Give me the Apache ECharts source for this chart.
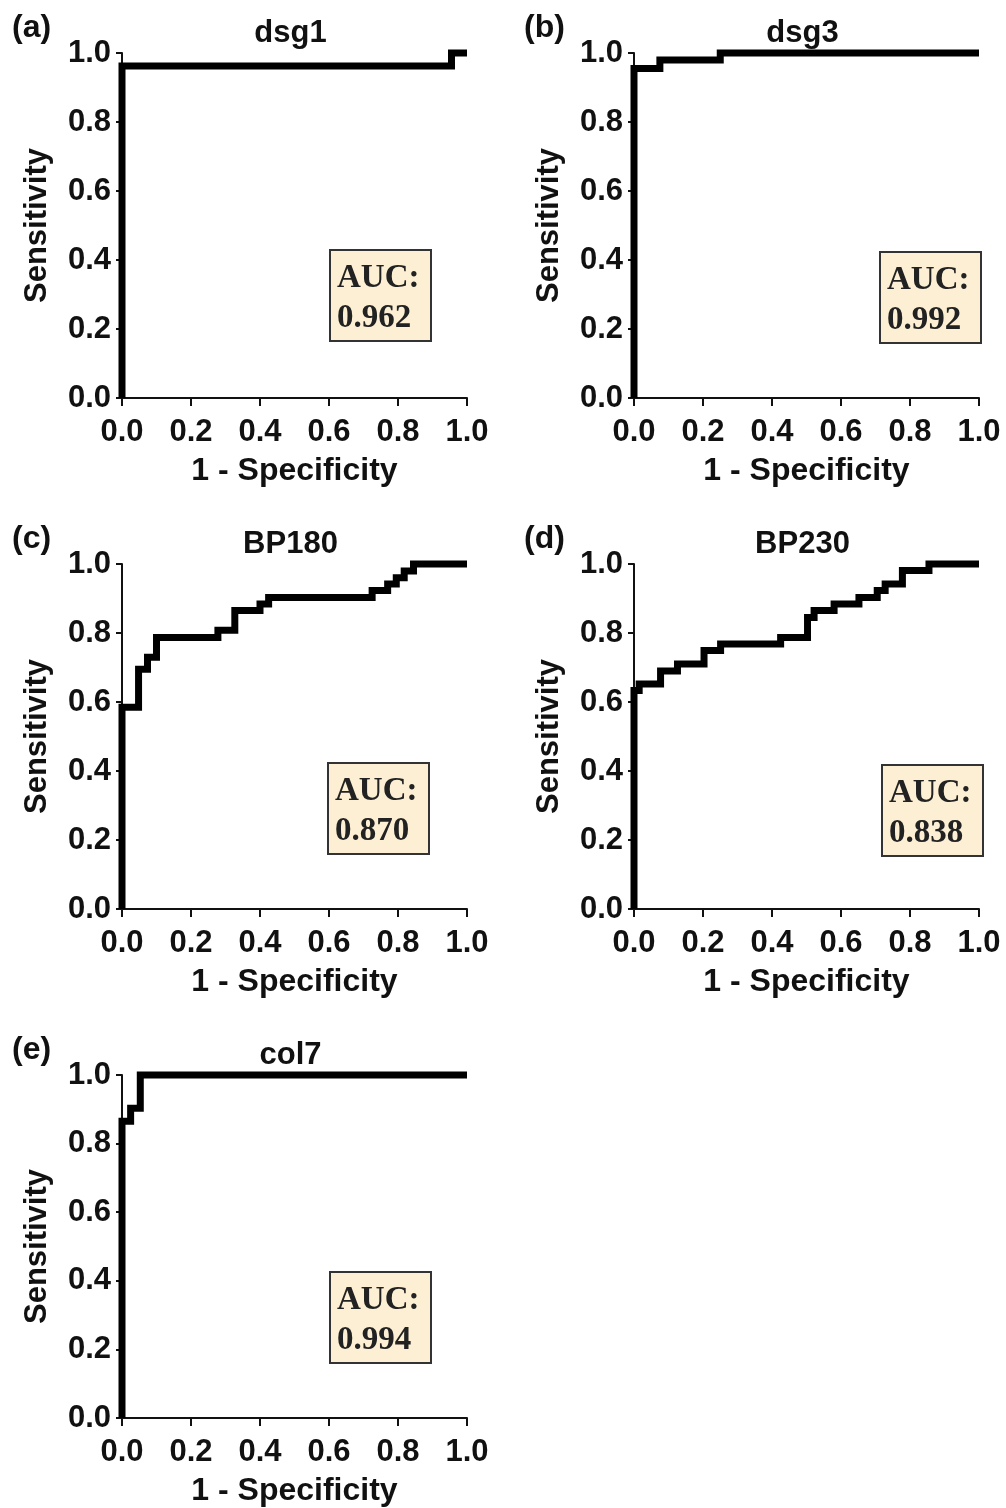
<!DOCTYPE html>
<html>
<head>
<meta charset="utf-8">
<script src="https://cdn.jsdelivr.net/npm/echarts@6/dist/echarts.min.js"></script>
<style>
  html, body { margin: 0; padding: 0; background: #fff; }
  #main { width: 1006px; height: 1508px; }
</style>
</head>
<body>
<div id="main"></div>
<script>
// ROC curve vertices (1 - specificity, sensitivity)
const dsg1X = [0, 0, 0.955, 0.955, 1]
const dsg1Y = [0, 0.962, 0.962, 1, 1]

const dsg3X = [0, 0, 0.075, 0.075, 0.25, 0.25, 1]
const dsg3Y = [0, 0.955, 0.955, 0.98, 0.98, 1, 1]

const bp180X = [0, 0, 0.048, 0.048, 0.074, 0.074, 0.1, 0.1, 0.278, 0.278, 0.327, 0.327,
  0.4, 0.4, 0.425, 0.425, 0.725, 0.725, 0.77, 0.77, 0.795, 0.795, 0.818, 0.818, 0.845, 0.845, 1]
const bp180Y = [0, 0.585, 0.585, 0.695, 0.695, 0.73, 0.73, 0.787, 0.787, 0.808, 0.808, 0.865,
  0.865, 0.884, 0.884, 0.903, 0.903, 0.923, 0.923, 0.942, 0.942, 0.96, 0.96, 0.98, 0.98, 1, 1]

const bp230X = [0, 0, 0.015, 0.015, 0.077, 0.077, 0.126, 0.126, 0.203, 0.203, 0.251, 0.251,
  0.425, 0.425, 0.503, 0.503, 0.522, 0.522, 0.58, 0.58, 0.652, 0.652, 0.705, 0.705,
  0.728, 0.728, 0.778, 0.778, 0.855, 0.855, 1]
const bp230Y = [0, 0.633, 0.633, 0.652, 0.652, 0.69, 0.69, 0.71, 0.71, 0.749, 0.749, 0.768,
  0.768, 0.787, 0.787, 0.845, 0.845, 0.865, 0.865, 0.884, 0.884, 0.903, 0.903, 0.923,
  0.923, 0.942, 0.942, 0.981, 0.981, 1, 1]

const col7X = [0, 0, 0.025, 0.025, 0.053, 0.053, 1]
const col7Y = [0, 0.865, 0.865, 0.903, 0.903, 1, 1]

const panelNames = ["dsg1", "dsg3", "BP180", "BP230", "col7"]
const panelTags = ["(a)", "(b)", "(c)", "(d)", "(e)"]
const aucValues = ["0.962", "0.992", "0.870", "0.838", "0.994"]
const curvesX = [dsg1X, dsg3X, bp180X, bp230X, col7X]
const curvesY = [dsg1Y, dsg3Y, bp180Y, bp230Y, col7Y]

// layout (pixels)
const SIZE = 345
const grids = [
  { left: 122, top: 53 },
  { left: 634, top: 53 },
  { left: 122, top: 564 },
  { left: 634, top: 564 },
  { left: 122, top: 1075 },
]
// AUC box offsets relative to each grid
const aucBoxes = [
  { x: 208, y: 197 },
  { x: 246, y: 199 },
  { x: 206, y: 199 },
  { x: 248, y: 201 },
  { x: 208, y: 197 },
]

const SANS = '"Liberation Sans", Arial, Helvetica, sans-serif'
const SERIF = '"Liberation Serif", "Times New Roman", serif'

let myChart = echarts.init(document.getElementById("main"))

let option = {
  backgroundColor: "#fff",
  animation: false,
  grid: [],
  xAxis: [],
  yAxis: [],
  series: [],
  graphic: [],
}

grids.forEach((g, i) => {
  option.grid.push({ left: g.left, top: g.top, width: SIZE, height: SIZE })
  option.xAxis.push({
    gridIndex: i,
    type: "value",
    min: 0,
    max: 1,
    interval: 0.2,
    name: "1 - Specificity",
    nameLocation: "middle",
    nameGap: 57,
    nameTextStyle: { color: "#111", fontSize: 32, fontWeight: "bold", fontFamily: SANS },
    axisLine: { show: true, lineStyle: { color: "#111", width: 2 } },
    axisTick: { show: true, length: 8, lineStyle: { color: "#111", width: 2 } },
    axisLabel: {
      color: "#111",
      fontSize: 31,
      fontWeight: "bold",
      fontFamily: SANS,
      margin: 19,
      formatter: (v) => v.toFixed(1),
    },
    splitLine: { show: false },
  })
  option.yAxis.push({
    gridIndex: i,
    type: "value",
    min: 0,
    max: 1,
    interval: 0.2,
    offset: 3,
    name: "Sensitivity",
    nameLocation: "middle",
    nameGap: 66,
    nameTextStyle: { color: "#111", fontSize: 31, fontWeight: "bold", fontFamily: SANS },
    axisLine: { show: true, lineStyle: { color: "#111", width: 2 } },
    axisTick: { show: true, length: 6, lineStyle: { color: "#111", width: 2 } },
    axisLabel: {
      color: "#111",
      fontSize: 31,
      fontWeight: "bold",
      fontFamily: SANS,
      margin: 8,
      formatter: (v) => v.toFixed(1),
    },
    splitLine: { show: false },
  })
  option.series.push({
    type: "line",
    xAxisIndex: i,
    yAxisIndex: i,
    data: curvesX[i].map((x, k) => [x, curvesY[i][k]]),
    symbol: "none",
    lineStyle: { color: "#000", width: 7, join: "miter", cap: "butt" },
    clip: false,
    z: 3,
  })

  // panel title and tag
  option.graphic.push({
    type: "text",
    x: g.left + SIZE / 2 - 4,
    y: g.top - 20,
    style: {
      text: panelNames[i],
      textAlign: "center",
      align: "center",
      textVerticalAlign: "middle",
      verticalAlign: "middle",
      font: "bold 31px " + SANS,
      fill: "#111",
    },
  })
  option.graphic.push({
    type: "text",
    x: g.left - 110,
    y: g.top - 25,
    style: {
      text: panelTags[i],
      textVerticalAlign: "middle",
      verticalAlign: "middle",
      font: "bold 32px " + SANS,
      fill: "#111",
    },
  })

  // AUC box
  let b = aucBoxes[i]
  option.graphic.push({
    type: "group",
    x: g.left + b.x,
    y: g.top + b.y,
    z: 10,
    children: [
      {
        type: "rect",
        shape: { x: 0, y: 0, width: 101, height: 91 },
        style: { fill: "#fcefd3", stroke: "#333", lineWidth: 2 },
      },
      {
        type: "text",
        x: 7,
        y: 8,
        style: {
          text: "AUC:\n" + aucValues[i],
          font: "bold 33px " + SERIF,
          lineHeight: 40,
          fill: "#222",
        },
      },
    ],
  })
})

myChart.setOption(option)

window.addEventListener("resize", () => {
  myChart.resize()
})
</script>
</body>
</html>
